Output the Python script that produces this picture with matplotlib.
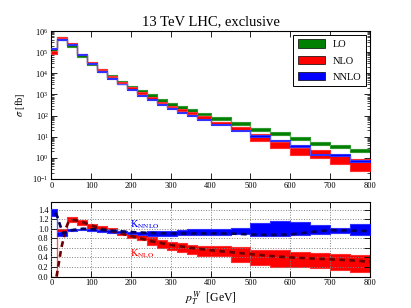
import numpy as np
import matplotlib
matplotlib.use("Agg")
import matplotlib.pyplot as plt
from matplotlib.patches import Patch

plt.rcParams['font.family'] = ['Liberation Serif', 'DejaVu Serif']
plt.rcParams['mathtext.fontset'] = 'stix'

# bin edges in pT^W [GeV]
edges = [0, 15, 40, 65, 90, 115, 140, 165, 190, 215, 240, 265, 290, 315, 340, 365,
         400, 450, 500, 550, 600, 650, 700, 750, 800]

# cross section bands [fb]
lo_low = [1.05e5, 3.8e5, 1.7e5, 5.8e4, 2.4e4, 1.2e4, 6.0e3, 3.2e3, 1.85e3, 1.15e3, 7.3e2, 4.4e2,
          3.0e2, 2.0e2, 1.45e2, 1.02e2, 62, 35, 19.5, 11.6, 6.8, 4.2, 3.0, 1.9]
lo_high = [1.45e5, 5.2e5, 2.3e5, 7.5e4, 3.0e4, 1.65e4, 8.3e3, 4.4e3, 2.55e3, 1.6e3, 1.0e3, 6.0e2,
           4.1e2, 2.8e2, 2.0e2, 1.4e2, 85, 48, 27, 16, 9.4, 5.8, 4.1, 2.6]
nlo_low = [8.5e4, 4.5e5, 2.3e5, 7.6e4, 2.9e4, 1.4e4, 6.5e3, 3.4e3, 1.9e3, 1.05e3, 6.3e2, 3.8e2,
           2.45e2, 1.65e2, 1.15e2, 72, 38, 20, 6.5, 3.0, 1.3, 1.0, 0.5, 0.25]
nlo_high = [1.2e5, 5.1e5, 2.6e5, 8.6e4, 3.3e4, 1.6e4, 7.5e3, 4.0e3, 2.2e3, 1.25e3, 7.4e2, 4.5e2,
            2.9e2, 2.05e2, 1.45e2, 92, 50, 29, 13, 5.8, 3.0, 2.3, 1.4, 0.9]
nnlo_low = [1.35e5, 3.9e5, 2.3e5, 7.6e4, 2.85e4, 1.22e4, 5.7e3, 3.0e3, 1.65e3, 8.8e2, 5.4e2, 3.2e2,
            2.1e2, 1.33e2, 97, 65, 37, 18, 10, 6.0, 3.3, 1.4, 1.25, 0.65]
nnlo_high = [1.55e5, 4.3e5, 2.5e5, 8.3e4, 3.1e4, 1.35e4, 6.3e3, 3.3e3, 1.8e3, 9.6e2, 5.9e2, 3.5e2,
             2.3e2, 1.45e2, 106, 72, 41, 20.5, 11.5, 7.0, 3.9, 1.6, 1.45, 0.75]

# K-factor bands
knlo_low = [0, 0.92, 1.14, 1.08, 1.00, 0.97, 0.93, 0.86, 0.80, 0.76, 0.66, 0.59,
            0.56, 0.51, 0.47, 0.42, 0.42, 0.31, 0.24, 0.20, 0.19, 0.17, 0.13, 0.10]
knlo_high = [0, 0.99, 1.24, 1.18, 1.10, 1.05, 1.01, 0.96, 0.92, 0.89, 0.82, 0.77,
             0.73, 0.70, 0.66, 0.64, 0.64, 0.61, 0.56, 0.55, 0.52, 0.49, 0.48, 0.45]
knnlo_low = [1.26, 0.85, 0.95, 0.97, 0.96, 0.94, 0.92, 0.90, 0.88, 0.86, 0.84, 0.84,
             0.84, 0.86, 0.87, 0.87, 0.87, 0.88, 0.85, 0.85, 0.87, 0.88, 0.90, 0.87]
knnlo_high = [1.41, 0.94, 0.99, 1.00, 0.99, 0.98, 0.97, 0.95, 0.94, 0.93, 0.96, 0.96,
              0.96, 0.97, 0.99, 0.99, 0.99, 1.01, 1.12, 1.17, 1.13, 1.08, 1.02, 1.09]

# dashed K-factor curves
knlo_x = [13, 17, 20, 25, 30, 36, 42, 50, 60, 75, 100, 125, 150, 200, 250, 300, 350,
          400, 450, 500, 550, 600, 650, 700, 750, 800]
knlo_y = [0.0, 0.2, 0.35, 0.6, 0.77, 1.0, 1.12, 1.17, 1.18, 1.15, 1.07, 1.0, 0.95, 0.85,
          0.74, 0.66, 0.60, 0.55, 0.51, 0.47, 0.43, 0.40, 0.38, 0.36, 0.34, 0.31]
knnlo_x = [10, 15, 20, 25, 30, 35, 45, 60, 80, 100, 150, 200, 250, 300, 350, 400, 450,
           500, 550, 600, 650, 700, 750, 800]
knnlo_y = [1.33, 1.25, 1.12, 1.0, 0.9, 0.92, 0.96, 0.98, 1.0, 0.99, 0.96, 0.93, 0.91,
           0.90, 0.90, 0.90, 0.90, 0.88, 0.87, 0.88, 0.93, 0.97, 0.96, 0.95]


def band(ax, low, high, color, z):
    lo = np.append(low, low[-1])
    hi = np.append(high, high[-1])
    ax.fill_between(edges, lo, hi, step='post', facecolor=color,
                    edgecolor=color, linewidth=0.8, alpha=1.0, zorder=z)
    ax.fill_between(edges, lo, hi, step='post', facecolor='none',
                    edgecolor='white', linewidth=0.4, alpha=0.35, zorder=z)


def style(ax):
    ax.tick_params(which='both', direction='in', top=True, right=True, labelsize=6, pad=2)
    ax.tick_params(which='major', length=4, width=0.6)
    ax.tick_params(which='minor', length=2, width=0.5)
    for s in ax.spines.values():
        s.set_linewidth(0.8)


fig = plt.figure(figsize=(4.11, 3.08), dpi=100)
ax1 = fig.add_axes([0.125, 0.419, 0.775, 0.480])
ax2 = fig.add_axes([0.125, 0.102, 0.775, 0.241])

band(ax1, lo_low, lo_high, 'green', 2)
band(ax1, nlo_low, nlo_high, 'red', 3)
band(ax1, nnlo_low, nnlo_high, 'blue', 4)
ax1.set_yscale('log')
ax1.set_xlim(0, 800)
ax1.set_ylim(1e-1, 1e6)
ax1.set_ylabel(r'$\sigma$ [fb]', fontsize=7.5, labelpad=4)
ax1.set_title('13 TeV LHC, exclusive', fontsize=10.5, pad=4)
style(ax1)

handles = [Patch(facecolor='green', edgecolor='black', linewidth=0.5, label='LO'),
           Patch(facecolor='red', edgecolor='black', linewidth=0.5, label='NLO'),
           Patch(facecolor='blue', edgecolor='black', linewidth=0.5, label='NNLO')]
leg = ax1.legend(handles=handles, loc='upper right', fontsize=7.5, fancybox=False,
                 framealpha=1, edgecolor='black', borderaxespad=0.4,
                 handlelength=2.6, handleheight=0.9, labelspacing=0.6)
leg.get_frame().set_linewidth(0.7)

band(ax2, knlo_low, knlo_high, 'red', 2)
band(ax2, knnlo_low, knnlo_high, 'blue', 3)
ax2.plot(knlo_x, knlo_y, '--', color='#6a0000', lw=1.9, dashes=(2.2, 1.6), zorder=5)
ax2.plot(knnlo_x, knnlo_y, '--', color='#00005a', lw=1.9, dashes=(2.2, 1.6), zorder=5)
ax2.set_xlim(0, 800)
ax2.set_ylim(0, 1.55)
ax2.set_yticks([0.0, 0.2, 0.4, 0.6, 0.8, 1.0, 1.2, 1.4])
ax2.grid(True, linestyle=':', color='gray', linewidth=0.7)
ax2.set_axisbelow(False)
ax2.text(197, 1.02, r'$\mathrm{K}_{\mathrm{NNLO}}$', color='blue', fontsize=7.5)
ax2.text(197, 0.42, r'$\mathrm{K}_{\mathrm{NLO}}$', color='red', fontsize=7.5)
ax2.set_xlabel(r'$p_T^W$  [GeV]', fontsize=8.5, labelpad=1)
style(ax2)

fig.savefig('out.png', dpi=100)
